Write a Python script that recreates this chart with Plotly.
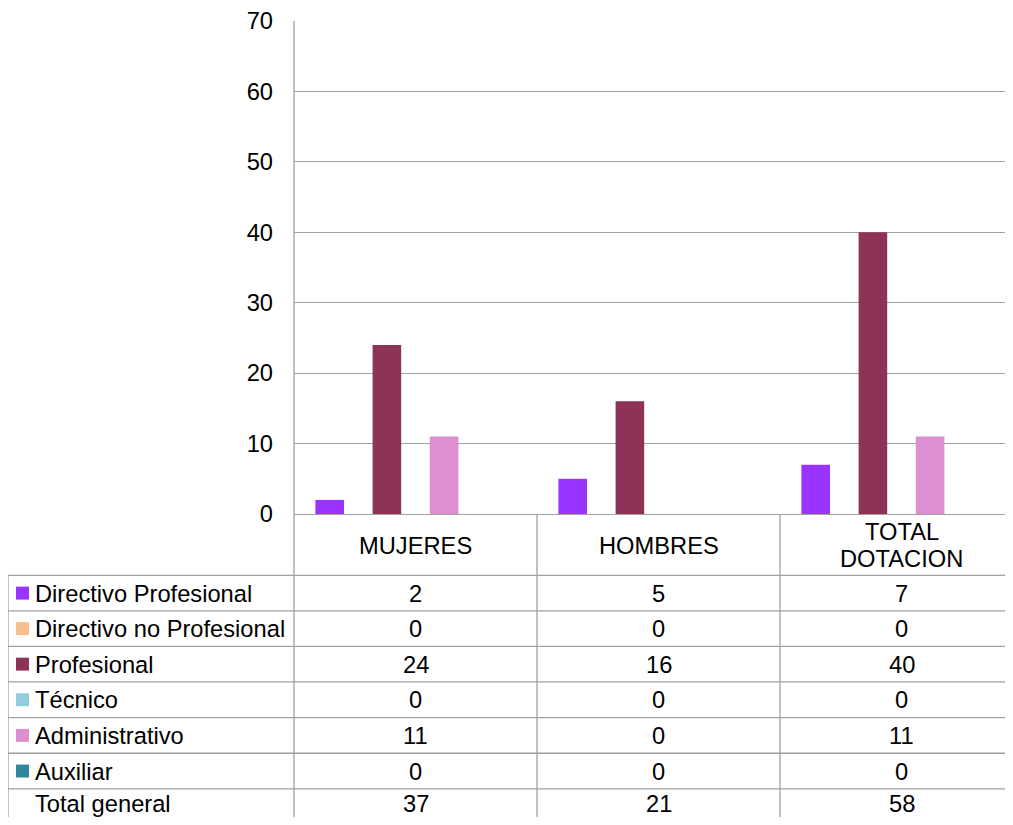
import plotly.graph_objects as go

categories = ["MUJERES", "HOMBRES", "TOTAL DOTACION"]
category_labels = ["MUJERES", "HOMBRES", "TOTAL<br>DOTACION"]
series_names = ["Directivo Profesional", "Directivo no Profesional", "Profesional",
                "Técnico", "Administrativo", "Auxiliar"]
directivo_profesional = [2, 5, 7]
directivo_no_profesional = [0, 0, 0]
profesional = [24, 16, 40]
tecnico = [0, 0, 0]
administrativo = [11, 0, 11]
auxiliar = [0, 0, 0]
total_general = [37, 21, 58]
y_ticks = [0, 10, 20, 30, 40, 50, 60, 70]

series_values = [directivo_profesional, directivo_no_profesional, profesional,
                 tecnico, administrativo, auxiliar]
colors = ["#9933FF", "#FABF8F", "#8E3358", "#93CDDD", "#DD90D1", "#31859C"]

# page body has an 8px margin: work in screen px and convert
OFF = 8
W, H = 1013 - 2 * OFF, 825 - 2 * OFF
L, T, B = 294 - OFF, 19 - OFF, 514 - OFF
CAT_PX = 243
plot_w = W - L
plot_h = B - T
FONT = "Liberation Sans, Arial, sans-serif"
FS = 23.7
GRID = "#A0A0A0"

def py(p):
    return (B - (p - OFF)) / plot_h

def px(p):
    return ((p - OFF) - L) / plot_w

fig = go.Figure()
n_slots = 7
slot = 28.6 / CAT_PX
side = (1 - n_slots * slot) / 2
for k, (name, vals, col) in enumerate(zip(series_names, series_values, colors)):
    fig.add_trace(go.Bar(
        x=categories, y=vals, name=name, marker=dict(color=col, line=dict(width=0)),
        width=slot, offset=-0.5 + side + k * slot, showlegend=False,
    ))

row_lines = [575.7, 611.2, 646.9, 682.6, 718.4, 754.2, 790.0, 826.0]
shapes = []
for yl in row_lines:
    shapes.append(dict(type="line", xref="paper", yref="paper", x0=px(8), x1=1.0,
                       y0=py(yl), y1=py(yl), line=dict(color=GRID, width=1.3)))
shapes.append(dict(type="line", xref="paper", yref="paper", x0=px(8), x1=px(8),
                   y0=py(row_lines[0]), y1=py(840), line=dict(color=GRID, width=1.3)))
shapes.append(dict(type="line", xref="paper", yref="paper", x0=0, x1=0,
                   y0=1, y1=py(840), line=dict(color=GRID, width=1.3)))
for i in range(1, len(categories)):
    shapes.append(dict(type="line", xref="x", yref="paper", x0=i - 0.5, x1=i - 0.5,
                       y0=0, y1=py(840), line=dict(color=GRID, width=1.3)))

annotations = []
LINE_H = 27
for i, lab in enumerate(category_labels):
    parts = lab.split("<br>")
    n = len(parts)
    for j, part in enumerate(parts):
        yc = 546 + (j - (n - 1) / 2) * LINE_H
        annotations.append(dict(x=categories[i], y=py(yc), xref="x", yref="paper",
                                text=part, showarrow=False, yanchor="middle",
                                font=dict(family=FONT, size=FS, color="black")))

rows = [(n, v, c) for n, v, c in zip(series_names, series_values, colors)]
rows.append(("Total general", total_general, None))
for r, (name, vals, col) in enumerate(rows):
    yc = (row_lines[r] + row_lines[r + 1]) / 2
    ty = yc + 0.5 if r < len(rows) - 1 else yc - 3
    if col is not None:
        shapes.append(dict(type="rect", xref="paper", yref="paper",
                           x0=px(16), x1=px(29), y0=py(yc - 6.5), y1=py(yc + 6.5),
                           fillcolor=col, line=dict(width=0)))
    annotations.append(dict(x=px(33), y=py(ty), xref="paper", yref="paper",
                            text=name, showarrow=False, xanchor="left", yanchor="middle",
                            font=dict(family=FONT, size=FS, color="black")))
    for i, v in enumerate(vals):
        annotations.append(dict(x=categories[i], y=py(ty), xref="x", yref="paper",
                                text=str(v), showarrow=False, yanchor="middle",
                                font=dict(family=FONT, size=FS, color="black")))

fig.update_layout(
    width=W, height=H,
    margin=dict(l=L, r=0, t=T, b=H - B, pad=0),
    paper_bgcolor="white", plot_bgcolor="white",
    barmode="overlay",
    shapes=shapes, annotations=annotations,
    xaxis=dict(type="category", range=[-0.5, -0.5 + plot_w / CAT_PX],
               showticklabels=False, showgrid=False, zeroline=False, showline=False),
    yaxis=dict(range=[0, 70], tickvals=y_ticks, showgrid=True, gridcolor=GRID, gridwidth=1.3,
               zeroline=True, zerolinecolor=GRID, zerolinewidth=1.3,
               showline=False, ticks="", ticklabelstandoff=20, ticklabeloverflow="allow",
               tickfont=dict(family=FONT, size=FS, color="black")),
    font=dict(family=FONT, size=FS, color="black"),
)
fig.write_html("out.html")
